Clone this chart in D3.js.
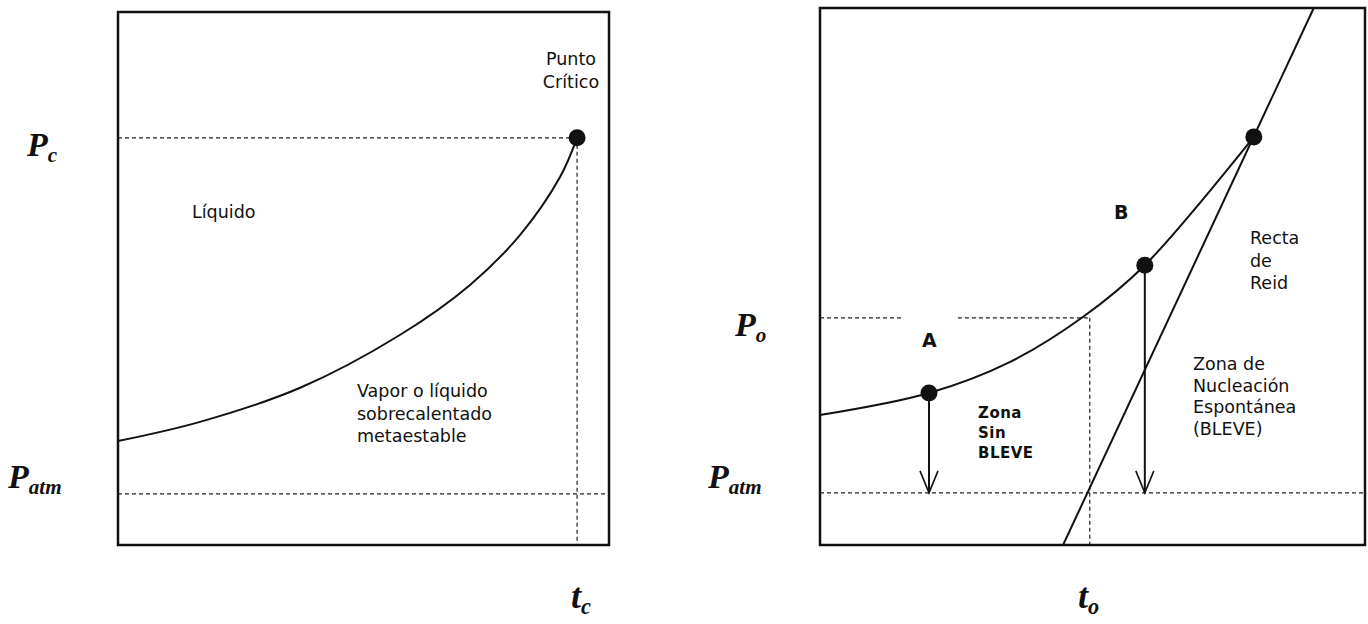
<!DOCTYPE html>
<html><head><meta charset="utf-8">
<script src="https://cdn.jsdelivr.net/npm/d3@7"></script>
<style>
body{margin:0;background:#fff;}
svg{display:block;}
.lbl{font-family:"DejaVu Sans",sans-serif;font-size:17.5px;fill:#111;}
.sym{font-family:"Liberation Serif","Times New Roman",serif;font-weight:bold;font-style:italic;fill:#111;}
.bold{font-family:"DejaVu Sans",sans-serif;font-weight:bold;fill:#111;}
</style></head>
<body>
<svg id="c" width="1368" height="624"></svg>
<script>
// ---- Left panel data (arbitrary units 0-100) ----
const leftCurveT = [0, 16.7, 37.1, 57.4, 71.7, 81.9, 90.0, 93.5];
const leftCurveP = [19.5, 23.1, 29.5, 39.4, 48.8, 58.2, 69.0, 76.4];
const leftPc = 76.4, leftPatm = 9.6, leftTc = 93.5;

// ---- Right panel data ----
const rightCurveT = [0, 20, 34.9, 48.3, 59.6, 79.6];
const rightCurveP = [24.2, 28.3, 34.1, 42.5, 52.1, 76];
const rightPo = 42.3, rightTo = 49.5, rightPatm = 9.7;
const pointNames = ["A", "B", "C"];
const pointT = [20, 59.6, 79.6];
const pointP = [28.3, 52.1, 76];
const reidT = [44.6, 90.6];
const reidP = [0, 100];

const svg = d3.select("#c");

function panel(x0, x1, y0, y1) {
  const x = d3.scaleLinear().domain([0, 100]).range([x0, x1]);
  const y = d3.scaleLinear().domain([0, 100]).range([y1, y0]);
  return {x, y};
}
function dashed(g, xa, ya, xb, yb) {
  g.append("line").attr("x1", xa).attr("y1", ya).attr("x2", xb).attr("y2", yb)
   .attr("stroke", "#222").attr("stroke-width", 1.2).attr("stroke-dasharray", "4,3");
}
function symLabel(xp, yp, main, sub, size) {
  const t = svg.append("text").attr("class", "sym").attr("x", xp).attr("y", yp).style("font-size", size + "px");
  t.append("tspan").text(main);
  t.append("tspan").style("font-size", (size * 0.62) + "px").attr("dy", size * 0.18).text(sub);
}
function multi(cls, xp, yp, lines, lh, anchor, size) {
  const t = svg.append("text").attr("class", cls).attr("x", xp).attr("y", yp).attr("text-anchor", anchor || "start");
  if (size) t.style("font-size", size + "px");
  lines.forEach((l, i) => t.append("tspan").attr("x", xp).attr("dy", i ? lh : 0).text(l));
  return t;
}

// ===== Left panel =====
const L = panel(118, 609, 12, 545);
const gl = svg.append("g");
dashed(gl, L.x(0), L.y(leftPc), L.x(leftTc), L.y(leftPc));
dashed(gl, L.x(leftTc), L.y(leftPc), L.x(leftTc), L.y(0));
dashed(gl, L.x(0), L.y(leftPatm), L.x(100), L.y(leftPatm));
const lineL = d3.line().x(d => L.x(d[0])).y(d => L.y(d[1])).curve(d3.curveCatmullRom.alpha(0.5));
gl.append("path").datum(d3.zip(leftCurveT, leftCurveP)).attr("d", lineL)
  .attr("fill", "none").attr("stroke", "#111").attr("stroke-width", 2);
gl.append("circle").attr("cx", L.x(leftTc)).attr("cy", L.y(leftPc)).attr("r", 8.5).attr("fill", "#111");
gl.append("rect").attr("x", L.x(0)).attr("y", L.y(100)).attr("width", L.x(100) - L.x(0)).attr("height", L.y(0) - L.y(100))
  .attr("fill", "none").attr("stroke", "#111").attr("stroke-width", 2.5);

multi("lbl", 571, 65, ["Punto", "Crítico"], 23, "middle");
multi("lbl", 192, 218, ["Líquido"], 22);
multi("lbl", 357, 397, ["Vapor o líquido", "sobrecalentado", "metaestable"], 22.5);
symLabel(27, 156, "P", "c", 34);
symLabel(8, 488, "P", "atm", 34);
symLabel(571, 608, "t", "c", 36);

// ===== Right panel =====
const R = panel(820, 1365, 8, 545);
const gr = svg.append("g");
// Po dashed (with a gap as in the original)
dashed(gr, R.x(0), R.y(rightPo), R.x(15), R.y(rightPo));
dashed(gr, R.x(25.3), R.y(rightPo), R.x(rightTo), R.y(rightPo));
dashed(gr, R.x(rightTo), R.y(rightPo), R.x(rightTo), R.y(0));
dashed(gr, R.x(0), R.y(rightPatm), R.x(100), R.y(rightPatm));
const lineR = d3.line().x(d => R.x(d[0])).y(d => R.y(d[1])).curve(d3.curveCatmullRom.alpha(0.5));
gr.append("path").datum(d3.zip(rightCurveT, rightCurveP)).attr("d", lineR)
  .attr("fill", "none").attr("stroke", "#111").attr("stroke-width", 2);
// Reid line (straight)
gr.append("line").attr("x1", R.x(reidT[0])).attr("y1", R.y(reidP[0])).attr("x2", R.x(reidT[1])).attr("y2", R.y(reidP[1]))
  .attr("stroke", "#111").attr("stroke-width", 2);
// Arrows from A and B down to Patm
[0, 1].forEach(i => {
  const xp = R.x(pointT[i]);
  const yb = R.y(rightPatm);
  gr.append("line").attr("x1", xp).attr("y1", R.y(pointP[i])).attr("x2", xp).attr("y2", yb)
    .attr("stroke", "#111").attr("stroke-width", 2);
  gr.append("path").attr("d", `M${xp - 9},${yb - 22} L${xp},${yb} L${xp + 9},${yb - 22}`)
    .attr("fill", "none").attr("stroke", "#111").attr("stroke-width", 1.6);
});
gr.selectAll("circle.pt").data(pointNames).join("circle").attr("class", "pt")
  .attr("cx", (d, i) => R.x(pointT[i])).attr("cy", (d, i) => R.y(pointP[i])).attr("r", 8.5).attr("fill", "#111");
gr.append("rect").attr("x", R.x(0)).attr("y", R.y(100)).attr("width", R.x(100) - R.x(0)).attr("height", R.y(0) - R.y(100))
  .attr("fill", "none").attr("stroke", "#111").attr("stroke-width", 2.5);

svg.append("text").attr("class", "bold").attr("x", 922).attr("y", 347).style("font-size", "19px").text("A");
svg.append("text").attr("class", "bold").attr("x", 1114).attr("y", 219).style("font-size", "19px").text("B");
multi("lbl", 1250, 244, ["Recta", "de", "Reid"], 22.5);
multi("lbl", 1193, 370, ["Zona de", "Nucleación", "Espontánea", "(BLEVE)"], 21.5);
multi("bold", 978, 418, ["Zona", "Sin", "BLEVE"], 20, "start", 15).style("letter-spacing", "0.5px");
symLabel(735, 336, "P", "o", 34);
symLabel(708, 488, "P", "atm", 34);
symLabel(1078, 608, "t", "o", 36);
</script>
</body></html>
